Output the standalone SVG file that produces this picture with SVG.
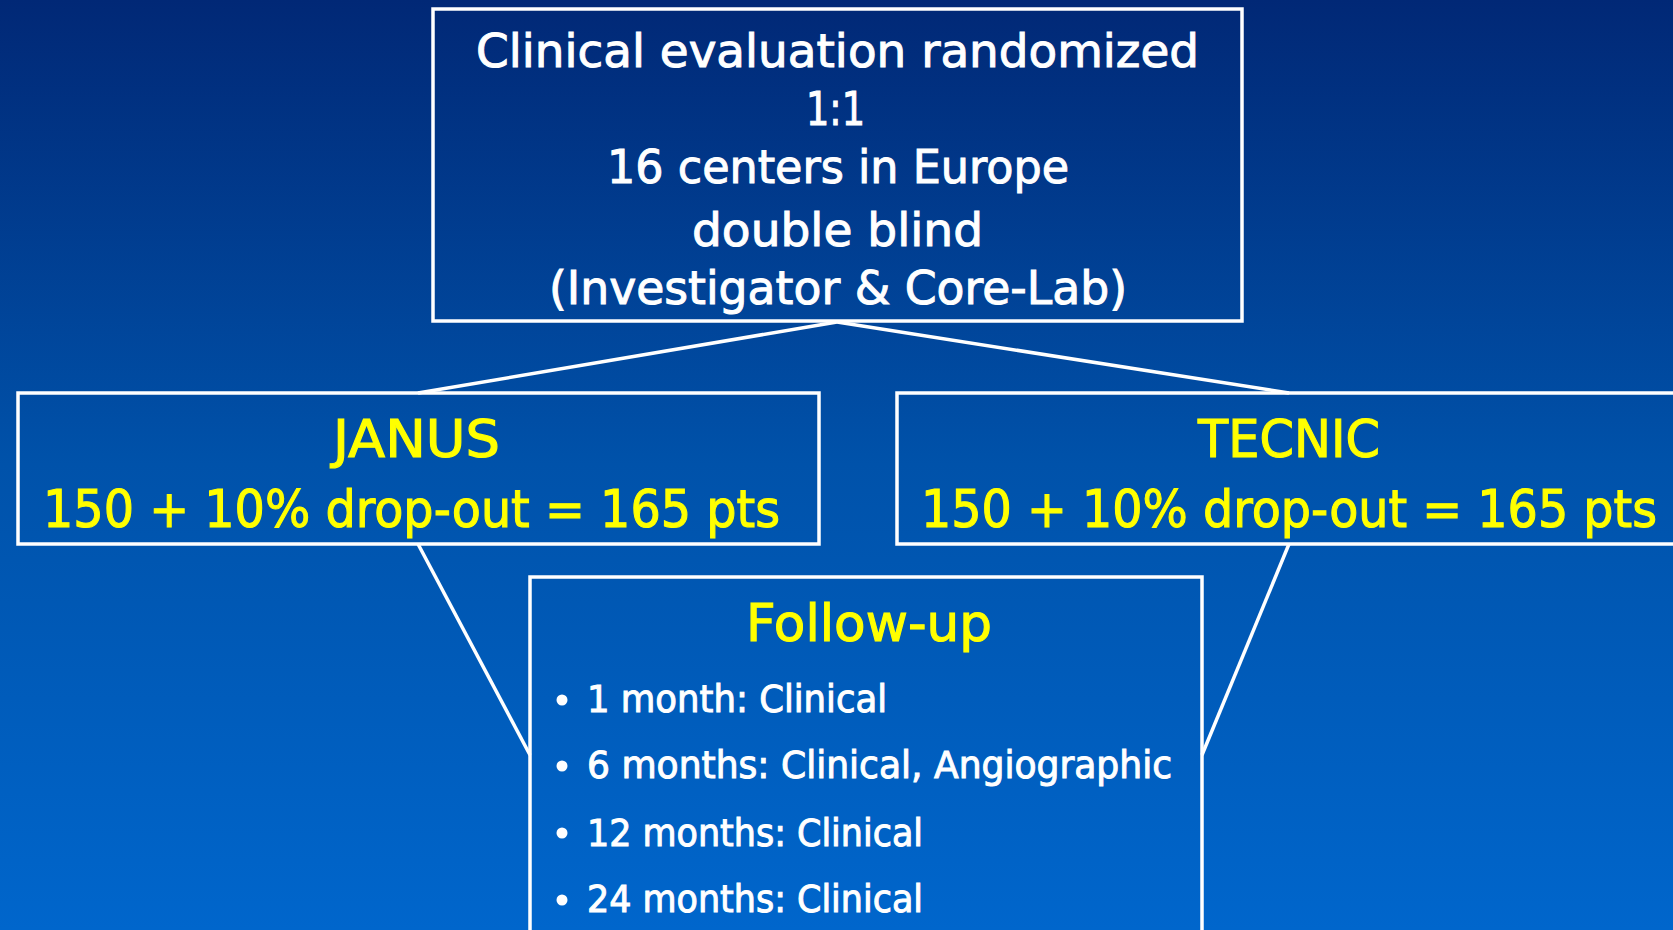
<svg xmlns="http://www.w3.org/2000/svg" width="1673" height="930" viewBox="0 0 1673 930">
<defs>
<linearGradient id="bg" x1="0" y1="0" x2="0" y2="1">
<stop offset="0" stop-color="#012876"/>
<stop offset="0.5" stop-color="#0052aa"/>
<stop offset="1" stop-color="#0066cc"/>
</linearGradient>
</defs>
<style>
.box{fill:none;stroke:#ffffff;stroke-width:3.5}
.ln{stroke:#ffffff;stroke-width:3.5;fill:none}
.w{fill:#ffffff;stroke:#ffffff;stroke-width:1;font-family:"DejaVu Sans","Liberation Sans",sans-serif}
.y{fill:#ffff00;stroke:#ffff00;stroke-width:1.1;font-family:"DejaVu Sans","Liberation Sans",sans-serif}
.t{font-size:46px}
.h{font-size:52px}
.b{font-size:37px}
.dot{fill:#ffffff}
</style>
<rect x="0" y="0" width="1673" height="930" fill="url(#bg)"/>
<g id="connectors">
<line class="ln" x1="837" y1="322" x2="418" y2="393"/>
<line class="ln" x1="837" y1="322" x2="1289" y2="393"/>
<line class="ln" x1="418" y1="544" x2="530" y2="755"/>
<line class="ln" x1="1289" y1="544" x2="1202" y2="755"/>
</g>
<g id="top">
<rect class="box" x="433" y="9" width="809" height="312"/>
<text class="w t" x="476" y="67" textLength="723" lengthAdjust="spacingAndGlyphs">Clinical evaluation randomized</text>
<text class="w t" x="806" y="125" textLength="59" lengthAdjust="spacingAndGlyphs">1:1</text>
<text class="w t" x="607" y="183" textLength="462" lengthAdjust="spacingAndGlyphs">16 centers in Europe</text>
<text class="w t" x="692" y="246" textLength="291" lengthAdjust="spacingAndGlyphs">double blind</text>
<text class="w t" x="549" y="304" textLength="578" lengthAdjust="spacingAndGlyphs">(Investigator &amp; Core-Lab)</text>
</g>
<g id="janus">
<rect class="box" x="18" y="393" width="801" height="151"/>
<text class="y h" x="333" y="457" textLength="167" lengthAdjust="spacingAndGlyphs">JANUS</text>
<text class="y h" x="43" y="527" textLength="737" lengthAdjust="spacingAndGlyphs">150 + 10% drop-out = 165 pts</text>
</g>
<g id="tecnic">
<rect class="box" x="897" y="393" width="800" height="151"/>
<text class="y h" x="1198" y="457" textLength="182" lengthAdjust="spacingAndGlyphs">TECNIC</text>
<text class="y h" x="921" y="527" textLength="736" lengthAdjust="spacingAndGlyphs">150 + 10% drop-out = 165 pts</text>
</g>
<g id="followup">
<rect class="box" x="530" y="577" width="672" height="380"/>
<text class="y h" x="746" y="641" textLength="246" lengthAdjust="spacingAndGlyphs">Follow-up</text>
<circle class="dot" cx="562" cy="700" r="5.5"/>
<text class="w b" x="587" y="712" textLength="300" lengthAdjust="spacingAndGlyphs">1 month: Clinical</text>
<circle class="dot" cx="562" cy="766" r="5.5"/>
<text class="w b" x="587" y="778" textLength="585" lengthAdjust="spacingAndGlyphs">6 months: Clinical, Angiographic</text>
<circle class="dot" cx="562" cy="833" r="5.5"/>
<text class="w b" x="587" y="846" textLength="336" lengthAdjust="spacingAndGlyphs">12 months: Clinical</text>
<circle class="dot" cx="562" cy="900" r="5.5"/>
<text class="w b" x="587" y="912" textLength="336" lengthAdjust="spacingAndGlyphs">24 months: Clinical</text>
</g>
</svg>
